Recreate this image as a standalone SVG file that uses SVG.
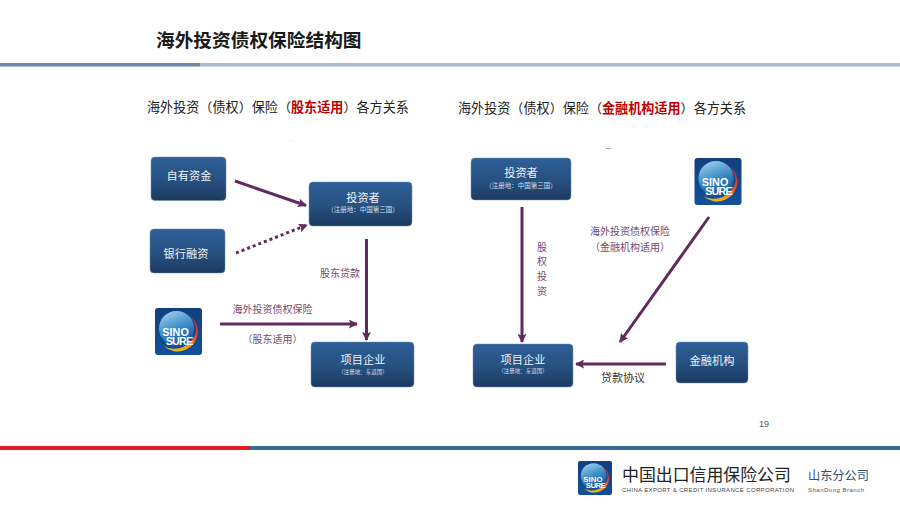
<svg xmlns="http://www.w3.org/2000/svg" xmlns:xlink="http://www.w3.org/1999/xlink" width="900" height="506" viewBox="0 0 900 506">
<style>
text{font-family:"Noto Sans CJK SC","Liberation Sans",sans-serif}
.box{fill:url(#boxGrad);stroke:#6d8db5;stroke-width:.5}
.nt{fill:#eef2f8;font-size:11.200px;text-anchor:middle}
.ns{fill:#d5dfec;font-size:6.500px;text-anchor:middle}
.np{fill:#d5dfec;font-size:5.500px;text-anchor:middle}
.lb{fill:#6f4a72;font-size:10px;text-anchor:middle}
.hd{fill:#222;font-size:13.100px}
.red{fill:#c00000;font-weight:700}
.ln{fill:none;stroke:#62295f;stroke-width:3}
.lt{font-family:"Liberation Sans",Arial,sans-serif}
</style>
<defs>
<linearGradient id="boxGrad" x1="0" y1="0" x2="0" y2="1"><stop offset="0" stop-color="#2e5f98"/><stop offset=".55" stop-color="#26507f"/><stop offset="1" stop-color="#1c3a60"/></linearGradient>
<linearGradient id="logoBg" x1="0" y1="0" x2="0" y2="1"><stop offset="0" stop-color="#123f7e"/><stop offset="1" stop-color="#12509c"/></linearGradient>
<linearGradient id="globe" x1=".2" y1="0" x2=".6" y2="1"><stop offset="0" stop-color="#9fd0ec"/><stop offset=".5" stop-color="#3f8fc8"/><stop offset="1" stop-color="#12509c"/></linearGradient>
<linearGradient id="ring" x1="0" y1="0" x2="0" y2="1"><stop offset="0" stop-color="#c8202c"/><stop offset=".6" stop-color="#e0482a"/><stop offset="1" stop-color="#f2c21c"/></linearGradient>
<marker id="ah" viewBox="0 0 10 10" refX="9" refY="5" markerWidth="3" markerHeight="3" orient="auto" markerUnits="strokeWidth"><path d="M0 0L10 5L0 10L2 5z" fill="#62295f"/></marker>
<symbol id="logo" viewBox="0 0 48 48" overflow="visible">
<rect width="48" height="48" rx="3" fill="url(#logoBg)"/>
<circle cx="22" cy="21" r="18" fill="url(#globe)"/>
<path d="M33 7A21 21 0 0 1 44 24A21 21 0 0 1 9 39A23 23 0 0 0 42 24A21 21 0 0 0 33 7z" fill="url(#ring)"/>
<text x="7.500" y="29" class="lt" font-size="11" font-weight="700" fill="#fff" textLength="27">SINO</text>
<text x="11" y="38" class="lt" font-size="11" font-weight="700" fill="#fff" textLength="28">SURE</text>
</symbol>
</defs>

<rect width="900" height="506" fill="#fff"/>
<text x="156" y="46.500" font-size="18.700" font-weight="700" fill="#1a1a1a">海外投资债权保险结构图</text>
<rect x="0" y="63" width="200" height="3.500" fill="#6f86a3"/>
<rect x="200" y="63" width="700" height="3.500" fill="#a8bbd3"/>

<text x="147" y="112" class="hd">海外投资（债权）保险（<tspan class="red">股东适用</tspan>）各方关系</text>
<text x="458" y="113" class="hd">海外投资（债权）保险（<tspan class="red">金融机构适用</tspan>）各方关系</text>
<text x="291" y="141" font-size="5" fill="#999" text-anchor="middle" class="lt">...</text>
<rect x="606" y="148" width="5" height="1" fill="#aaa"/>

<g id="connectors">
<path class="ln" marker-end="url(#ah)" d="M235 181L306 205.500"/>
<path class="ln" stroke-dasharray="3 3" marker-end="url(#ah)" d="M236 253L307 225"/>
<path class="ln" marker-end="url(#ah)" d="M366.500 239V340"/>
<path class="ln" marker-end="url(#ah)" d="M220 324H357"/>
<path class="ln" marker-end="url(#ah)" d="M522 207V342"/>
<path class="ln" marker-end="url(#ah)" d="M709 217L620 342"/>
<path class="ln" marker-end="url(#ah)" d="M666 364H576"/>
</g>

<g id="n-own"><rect class="box" x="151" y="157" width="75" height="43.500" rx="4"/><text class="nt" x="189" y="179.500">自有资金</text></g>
<g id="n-investor-l"><rect class="box" x="309" y="182" width="103" height="44" rx="4"/><text class="nt" x="363" y="201.500">投资者</text><text class="ns" x="363" y="212.400">（注册地：中国第三国）</text></g>
<g id="n-bank"><rect class="box" x="150" y="229" width="75" height="44" rx="4"/><text class="nt" x="186" y="258">银行融资</text></g>
<g id="n-logo-l"><use xlink:href="#logo" href="#logo" x="155" y="307" width="47" height="49"/></g>
<g id="n-project-l"><rect class="box" x="311" y="342" width="103" height="45" rx="4"/><text class="nt" x="363" y="364">项目企业</text><text class="np" x="363" y="373.700">（注册地：东道国）</text></g>
<g id="n-investor-r"><rect class="box" x="471" y="158" width="100" height="42" rx="4"/><text class="nt" x="521" y="177.300">投资者</text><text class="ns" x="521" y="188.200">（注册地：中国第三国）</text></g>
<g id="n-logo-r"><use xlink:href="#logo" href="#logo" x="694" y="158" width="48" height="47"/></g>
<g id="n-project-r"><rect class="box" x="473" y="344" width="100" height="43" rx="4"/><text class="nt" x="523" y="363.500">项目企业</text><text class="np" x="523" y="373.200">（注册地：东道国）</text></g>
<g id="n-fin"><rect class="box" x="676" y="342" width="72" height="41" rx="4"/><text class="nt" x="712" y="365">金融机构</text></g>

<text class="lb" x="340" y="277">股东贷款</text>
<text class="lb" x="272.500" y="313">海外投资债权保险</text>
<text class="lb" x="272.500" y="342.500">（股东适用）</text>
<text class="lb" x="630" y="234.500">海外投资债权保险</text>
<text class="lb" x="630" y="251">（金融机构适用）</text>
<text class="lb" x="542" y="250.500">股</text><text class="lb" x="542" y="265">权</text><text class="lb" x="542" y="280">投</text><text class="lb" x="542" y="294.500">资</text>
<text class="lb" x="623" y="381.500" style="fill:#333;font-size:11px">贷款协议</text>
<text x="764" y="427" class="lt" font-size="9" fill="#555" text-anchor="middle">19</text>

<rect x="0" y="446" width="250" height="4" fill="#e01b22"/>
<rect x="250" y="446" width="650" height="4" fill="#3a6a9a"/>

<g id="footer">
<use xlink:href="#logo" href="#logo" x="578" y="461" width="34" height="34"/>
<text x="622" y="480.500" font-size="16.900" fill="#222">中国出口信用保险公司</text>
<text x="622" y="492" class="lt" font-size="6" fill="#444" textLength="172">CHINA EXPORT &amp; CREDIT INSURANCE CORPORATION</text>
<text x="808" y="480" font-size="12.200" fill="#33506f">山东分公司</text>
<text x="808" y="492" class="lt" font-size="6" fill="#555" textLength="56">ShanDong Branch</text>
</g>
</svg>
